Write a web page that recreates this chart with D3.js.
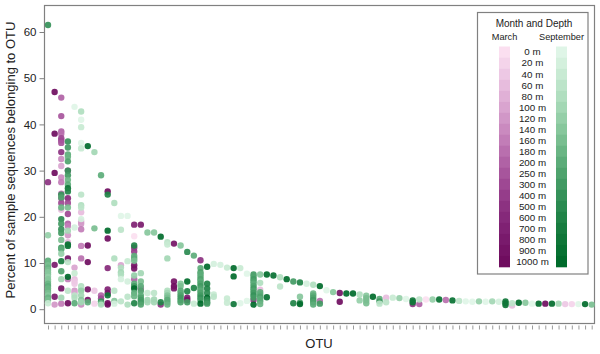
<!DOCTYPE html>
<html>
<head>
  <meta charset="UTF-8">
  <title>Percent of sample sequences belonging to OTU</title>
  <script src="https://d3js.org/d3.v7.min.js"></script>
  <style>
    body { margin: 0; background: #fff; }
    svg { display: block; font-family: "Liberation Sans", sans-serif; fill: #222; }
  </style>
</head>
<body>
  <svg></svg>
  <script>
    const depths = ['0 m','20 m','40 m','60 m','80 m','100 m','120 m','140 m','160 m','180 m','200 m','250 m','300 m','400 m','500 m','600 m','700 m','800 m','900 m','1000 m'];
    const yTicks = [0, 10, 20, 30, 40, 50, 60];
    const otuCount = 83;

    const marchStops = ['#fbdff0', '#dba9d3', '#b768aa', '#862a7d', '#6f0d5f'];
    const septStops = ['#dff5e7', '#a9dcb9', '#62b07d', '#23854a', '#006b2b'];

    // [otu, percent, depth index]
    const marchPoints = [
      [1,27.5,14],
      [2,47,19],[2,38,19],[2,29.5,19],[2,9.6,17],[2,2.7,17],[2,1,6],
      [3,45.8,10],[3,41.8,11],[3,38.5,10],[3,38,9],[3,37,12],[3,36.5,12],[3,36,11],[3,34,14],[3,32.5,7],[3,31,5],[3,28.5,7],[3,27.5,8],[3,25,9],[3,24,10],[3,23,12],[3,21.5,3],[3,4.5,18],[3,1.2,8],
      [4,30,14],[4,24,15],[4,23,12],[4,20.6,12],[4,18.5,10],[4,18,8],[4,16,6],[4,14.5,3],[4,11,18],[4,6.5,8],[4,1.3,19],
      [5,9,5],[5,6.5,3],[5,6,2],[5,5.5,2],[5,4,6],[5,3.5,5],
      [6,21,3],[6,19,5],[6,18.5,6],[6,17.3,8],[6,13.7,8],[6,11,9],[6,1,7],
      [7,13.8,19],[7,10.2,19],[7,4.3,18],[7,2,18],
      [8,4,2],[8,1.2,1],
      [9,3,10],[9,2.3,12],
      [10,25.5,19],[10,15.3,19],[10,8.9,15],[10,4.3,16],[10,3.5,18],[10,1.3,19],[10,1,19],
      [12,9.5,5],
      [14,18.3,16],[14,15.8,0],[14,13.3,13],[14,12.5,13],[14,9.5,18],[14,8.8,18],[14,6.5,10],
      [15,18.3,17],[15,4.5,10],
      [18,1,14],
      [20,14.2,18],[20,6,18],[20,5,19],[20,4.5,18],
      [22,2.5,17],[22,2,18],
      [24,10.6,14],
      [32,2,14],
      [33,4.2,3],
      [42,1.8,9],
      [45,3.5,18],[45,1.6,19],
      [52,2.5,3],
      [56,1.1,14],
      [57,1.1,10],
      [58,2.1,0],
      [61,2,9],
      [71,0.8,3],
      [76,1.2,19],
      [79,1.1,2],
      [80,1.1,1]
    ];
    const septPoints = [
      [1,61.5,13],[1,16,6],[1,10.5,10],[1,10,9],[1,9.5,8],[1,9,9],[1,8.5,8],[1,8,7],[1,7.5,7],[1,7,6],[1,6.5,7],[1,6,7],[1,5.5,9],[1,5,10],[1,4.5,9],[1,4,9],[1,3.5,8],[1,3,7],[1,2.5,9],[1,2,8],[1,1.3,2],
      [3,24.8,13],[3,24.2,11],[3,22,9],[3,19.5,14],[3,18.5,12],[3,17.3,13],[3,16.5,12],[3,15,8],[3,13.3,12],[3,13,10],[3,12,6],[3,10.4,16],[3,8.2,11],[3,6.5,5],[3,2.5,5],
      [4,36.3,13],[4,35,12],[4,33.5,10],[4,33,9],[4,32,11],[4,30,13],[4,29,12],[4,28,9],[4,27,10],[4,26.2,17],[4,25.5,15],[4,22,8],[4,17,5],[4,14,18],[4,13.7,17],[4,10.2,3],[4,7,19],[4,4,3],
      [5,43.8,0],[5,17.7,1],[5,7.8,2],[5,3,3],[5,2.5,4],[5,1.3,10],
      [6,42.8,4],[6,41,0],[6,39.4,2],[6,36,0],[6,34.8,2],[6,24.8,3],[6,22.5,4],[6,22,3],[6,19.5,1],[6,5,4],[6,4.5,3],[6,4,6],[6,3,5],[6,2,7],[6,1.5,5],
      [7,35.3,19],[7,1.5,10],
      [8,34,5],[8,17.5,8],
      [9,29,10],[9,1.7,13],[9,1.3,9],[9,1,4],
      [10,24.8,15],[10,17,19],[10,3,17],
      [11,23,4],[11,11,4],[11,4,3],[11,1.8,7],[11,1.2,1],
      [12,20.2,0],[12,17.2,3],[12,9,4],[12,8,5],[12,7.5,4],[12,6.5,1],[12,1.7,3],
      [13,20.2,0],[13,10.4,2],[13,6,1],[13,2.7,3],[13,1,4],
      [14,13.8,15],[14,11.5,10],[14,11,10],[14,10.5,8],[14,7.3,6],[14,5.5,10],[14,5,12],[14,4.5,19],[14,3.5,10],[14,2.8,9],[14,1.3,15],
      [15,7.8,5],[15,6,8],[15,5,10],[15,4,11],[15,3,10],[15,2.5,11],[15,2,12],[15,1.5,12],[15,1,11],
      [16,16.6,7],[16,3.5,2],[16,2,5],[16,1.5,5],
      [17,16.6,7],[17,3.5,3],[17,2.1,5],[17,1.5,5],
      [18,15.7,19],[18,1.5,15],
      [19,14.5,3],[19,14,2],[19,11,5],[19,4,4],[19,3.5,5],[19,3,7],[19,2.5,8],[19,2,10],[19,1.5,10],[19,1,9],
      [21,13.8,7],[21,5.5,7],[21,5,8],[21,4,10],[21,3.5,10],[21,3,11],[21,2.5,12],[21,2,12],[21,1.5,11],
      [22,12.4,14],[22,6,19],[22,3.9,15],[22,1.5,12],
      [23,11.6,10],[23,4.6,15],[23,1.2,2],
      [24,8.9,10],[24,8,11],[24,7.5,10],[24,7,10],[24,6.5,11],[24,6,10],[24,5.5,11],[24,5,12],[24,4.5,11],[24,4,10],[24,3.5,11],[24,3,12],[24,2.5,13],[24,2,12],[24,1.2,19],
      [25,9.2,19],[25,5.5,15],[25,4.5,15],[25,3.5,14],[25,2.5,19],[25,2,14],[25,1.5,13],[25,1.2,12],
      [26,9.8,1],[26,3.2,2],[26,2.7,3],
      [27,9.6,1],
      [28,9,2],[28,2.3,2],[28,1.4,2],
      [29,8.9,19],[29,7.1,19],[29,1.1,17],
      [30,8.9,2],[30,1.3,0],
      [31,7.7,0],[31,1.8,0],
      [32,7.5,12],[32,7,11],[32,6.5,12],[32,6,11],[32,5.5,10],[32,5,11],[32,4.5,12],[32,4,11],[32,3.5,12],[32,3,13],[32,2.5,12],[32,1,19],
      [33,7.5,7],[33,5.7,4],[33,3.7,10],[33,3.2,10],[33,2.7,11],[33,2.2,10],[33,1.7,10],[33,1.1,9],
      [34,7.5,19],[34,2.6,18],
      [35,7.3,18],
      [36,6.9,4],[36,4.9,3],
      [37,6.5,19],
      [38,6,12],[38,1.3,15],
      [39,5.8,15],[39,2.7,7],[39,1.4,12],[39,1.1,19],
      [40,5.5,1],
      [41,5.3,4],[41,3.4,9],[41,3,10],[41,2.5,11],[41,2,12],[41,1.5,11],[41,1,10],
      [42,5,19],[42,1.2,12],
      [43,4.1,0],
      [44,3.7,7],
      [46,3.4,19],
      [47,3.4,19],
      [48,3.2,4],[48,1.9,6],
      [49,2.9,7],[49,2.4,8],[49,1.9,8],[49,1.3,8],
      [50,2.7,19],
      [51,2.2,10],[51,1.7,12],[51,1.2,3],
      [52,1.5,3],
      [53,2.5,2],
      [54,2.4,6],
      [55,2.2,0],
      [56,1.9,17],[56,1.5,17],
      [57,2.1,3],
      [59,2.1,6],
      [60,2.1,18],
      [62,1.9,18],
      [63,1.8,3],
      [64,1.7,0],
      [65,1.6,0],
      [66,1.7,6],
      [67,1.6,0],
      [68,1.7,5],
      [69,1.6,1],
      [70,1.7,17],[70,1.3,17],[70,0.9,17],
      [71,1.3,3],
      [72,1.4,19],
      [73,1.4,7],
      [74,1.2,0],
      [75,1.2,19],
      [77,1.2,19],
      [78,1.2,5],
      [81,1.1,0],
      [82,1.1,19],
      [83,1,8]
    ];

    const width = 600, height = 354;
    const frame = { left: 44.5, right: 594.5, top: 5.5, bottom: 323.5 };
    const grey = '#808080';

    const svg = d3.select('svg').attr('width', width).attr('height', height);

    const otus = d3.range(1, otuCount + 1);
    const x = d3.scalePoint().domain(otus).range([48, 591.7]);
    const y = d3.scaleLinear().domain([0, 60]).range([309.2, 32]);

    const marchColor = d3.scaleSequential(d3.interpolateRgbBasis(marchStops)).domain([0, depths.length - 1]);
    const septColor = d3.scaleSequential(d3.interpolateRgbBasis(septStops)).domain([0, depths.length - 1]);

    // frame
    svg.append('rect')
      .attr('x', frame.left).attr('y', frame.top)
      .attr('width', frame.right - frame.left).attr('height', frame.bottom - frame.top)
      .attr('fill', 'none').attr('stroke', grey).attr('stroke-width', 1.2);

    // axes
    const yAxis = svg.append('g')
      .attr('transform', `translate(${frame.left},0)`)
      .call(d3.axisLeft(y).tickValues(yTicks).tickSize(5).tickPadding(3));
    yAxis.select('.domain').remove();
    yAxis.selectAll('line').attr('stroke', grey);
    yAxis.selectAll('text').attr('font-size', 11.5).attr('fill', '#222').attr('font-family', '"Liberation Sans", sans-serif');

    const xAxis = svg.append('g')
      .attr('transform', 'translate(0,325.5)')
      .call(d3.axisBottom(x).tickSize(4).tickFormat(''));
    xAxis.select('.domain').remove();
    xAxis.selectAll('line').attr('stroke', grey).attr('stroke-width', 0.8);

    svg.append('text')
      .attr('x', 319).attr('y', 348)
      .attr('text-anchor', 'middle').attr('font-size', 13)
      .text('OTU');

    svg.append('text')
      .attr('transform', 'translate(15,160) rotate(-90)')
      .attr('text-anchor', 'middle').attr('font-size', 13)
      .text('Percent of sample sequences belonging to OTU');

    // points
    const drawPoints = (rows, color) => svg.append('g')
      .selectAll('circle')
      .data(rows)
      .enter().append('circle')
      .attr('cx', d => x(d[0]))
      .attr('cy', d => y(d[1]))
      .attr('r', 3.2)
      .attr('fill', d => color(d[2]))
      .attr('fill-opacity', 0.92);

    drawPoints(marchPoints, marchColor);
    drawPoints(septPoints, septColor);

    // legend
    const legend = svg.append('g');
    legend.append('rect')
      .attr('x', 477.5).attr('y', 12.5).attr('width', 110.5).attr('height', 261.5)
      .attr('fill', '#fff').attr('stroke', grey).attr('stroke-width', 1.2);

    const legendY = d3.scaleBand().domain(depths).range([46.5, 267]);

    legend.append('text').attr('x', 534).attr('y', 27).attr('text-anchor', 'middle').attr('font-size', 10).text('Month and Depth');
    legend.append('text').attr('x', 504.5).attr('y', 40).attr('text-anchor', 'middle').attr('font-size', 9.2).text('March');
    legend.append('text').attr('x', 561.5).attr('y', 40).attr('text-anchor', 'middle').attr('font-size', 9.2).text('September');

    const legendRows = legend.selectAll('g.row')
      .data(depths)
      .enter().append('g')
      .attr('class', 'row')
      .attr('transform', d => `translate(0,${legendY(d)})`);

    legendRows.append('rect')
      .attr('x', 499).attr('width', 11).attr('height', legendY.bandwidth() + 0.3)
      .attr('fill', (d, i) => marchColor(i));
    legendRows.append('rect')
      .attr('x', 556).attr('width', 11).attr('height', legendY.bandwidth() + 0.3)
      .attr('fill', (d, i) => septColor(i));
    legendRows.append('text')
      .attr('x', 532.5).attr('y', legendY.bandwidth() / 2)
      .attr('dy', '0.35em')
      .attr('text-anchor', 'middle').attr('font-size', 9.8)
      .text(d => d);
  </script>
</body>
</html>
